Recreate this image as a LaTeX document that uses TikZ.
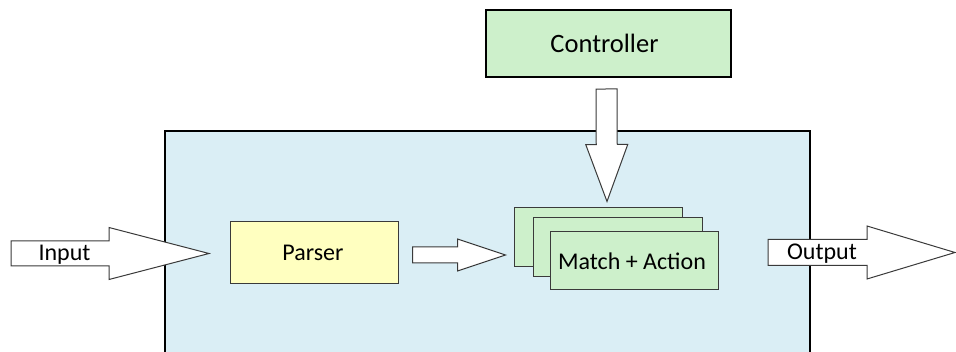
\documentclass[tikz,border=0pt]{standalone}
\usepackage{fontspec}
\setmainfont{Carlito}
\usetikzlibrary{calc}

\definecolor{stageblue}{HTML}{DAEEF5}
\definecolor{tablegreen}{HTML}{CDF0CB}
\definecolor{parseryellow}{HTML}{FFFFC0}
\definecolor{edgegray}{HTML}{3A3A3A}

\tikzset{
  lbl/.style={font=\fontsize{24}{28}\selectfont, text=black},
  boxbase/.style={draw, inner sep=0pt, lbl},
  ctrlbox/.style={boxbase, fill=tablegreen, line width=2pt, draw=black,
    minimum width=245pt, minimum height=67pt, font=\fontsize{26.5}{30}\selectfont},
  parserbox/.style={boxbase, fill=parseryellow, line width=1pt, draw=edgegray,
    minimum width=168pt, minimum height=62pt},
  tablebox/.style={boxbase, fill=tablegreen, line width=1pt, draw=edgegray,
    minimum width=168pt, minimum height=59pt},
  fatarrow/.style={draw=edgegray, fill=white, line width=1pt, line join=miter},
}

% hollow block arrow: #1 tail, #2 tip, #3 head length, #4 shaft half width, #5 head half width
\newcommand\blockarrow[5]{%
  \coordinate (neck) at ($(#2)!#3!(#1)$);
  \draw[fatarrow]
    ($(#1)!#4!90:(#2)$) -- ($(neck)!#4!-90:(#1)$) -- ($(neck)!#5!-90:(#1)$)
    -- (#2)
    -- ($(neck)!#5!90:(#1)$) -- ($(neck)!#4!90:(#1)$) -- ($(#1)!#4!-90:(#2)$)
    -- cycle;
}

\begin{document}
\begin{tikzpicture}[x=1pt, y=-1pt]
  \useasboundingbox (0,0) rectangle (956,352);
  \clip (0,0) rectangle (956,352);

  % switch stage, open at the bottom
  \fill[stageblue] (165,131) rectangle (810,360);
  \draw[line width=2pt, black] (165,360) -- (165,131) -- (810,131) -- (810,360);

  % controller and pipeline blocks
  \node[ctrlbox] (ctrl) at (608.5,43.5) {\hspace*{-8pt}Controller};
  \node[parserbox] (parser) at (314,253) {\hspace*{-2pt}Parser};
  \node[tablebox] (m1) at (598,237.5) {};
  \node[tablebox, minimum width=169pt] (m2) at (617.5,247.5) {};
  \node[tablebox, minimum height=58pt] (m3) at (634,261) {\hspace*{-4pt}Match + Action};

  % arrow end points
  \coordinate (in-tail) at (11,253.5);
  \coordinate (in-tip) at (209,253.5);
  \coordinate (pm-tail) at ($(parser.east)+(14,2)$);
  \coordinate (pm-tip) at ($(m1.west)+(-8,17.5)$);
  \coordinate (out-tail) at (768,252.5);
  \coordinate (out-tip) at (955,252.5);
  \coordinate (ctrl-tail) at ($(ctrl.south)+(-2,11)$);
  \coordinate (ctrl-tip) at ($(m1.north)+(9,-6)$);

  \blockarrow{in-tail}{in-tip}{100pt}{12.5pt}{26pt}
  \blockarrow{pm-tail}{pm-tip}{48pt}{8pt}{16pt}
  \blockarrow{out-tail}{out-tip}{88pt}{13pt}{26.5pt}
  \blockarrow{ctrl-tail}{ctrl-tip}{57pt}{10.5pt}{21pt}

  % arrow labels
  \node[lbl, inner sep=0pt] (inlbl) at (64.5,255) {Input};
  \node[lbl, inner sep=0pt] (outlbl) at (822,254) {Output};
\end{tikzpicture}
\end{document}
